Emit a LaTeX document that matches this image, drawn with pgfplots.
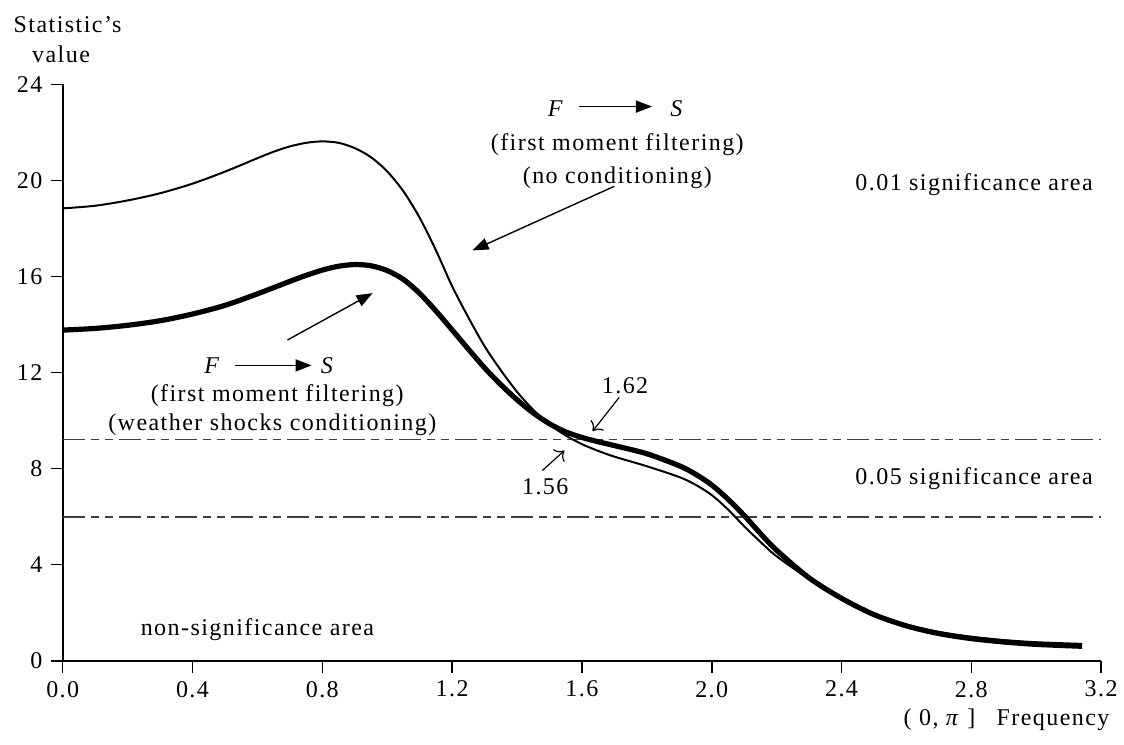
\documentclass[border=0pt]{standalone}
\usepackage{fontspec}
\setmainfont{Liberation Serif}[LetterSpace=6]
\usepackage{pgfplots}
\pgfplotsset{compat=1.18}
\usetikzlibrary{arrows.meta}

\pgfplotstableread{
x y
0 18.84
0.1 18.95
0.2 19.17
0.3 19.47
0.4 19.87
0.5 20.37
0.6 20.93
0.65 21.2
0.7 21.42
0.75 21.57
0.8 21.63
0.85 21.57
0.9 21.35
0.95 20.97
1.0 20.38
1.05 19.55
1.1 18.45
1.15 17.1
1.2 15.6
1.25 14.3
1.3 13.1
1.35 12.1
1.4 11.2
1.45 10.45
1.5 9.85
1.55 9.38
1.6 9.02
1.65 8.74
1.7 8.5
1.8 8.1
1.9 7.65
1.95 7.33
2.0 6.9
2.05 6.3
2.1 5.6
2.15 4.95
2.2 4.35
2.3 3.4
2.4 2.6
2.5 1.95
2.6 1.5
2.7 1.2
2.8 1.0
2.9 0.86
3.0 0.77
3.1416 0.7
}\nocond

\pgfplotstableread{
x y
0 13.77
0.1 13.84
0.2 13.97
0.3 14.16
0.4 14.44
0.5 14.8
0.6 15.28
0.7 15.8
0.75 16.05
0.8 16.27
0.85 16.43
0.9 16.5
0.95 16.45
1.0 16.25
1.05 15.88
1.1 15.3
1.15 14.57
1.2 13.78
1.25 12.98
1.3 12.2
1.35 11.5
1.4 10.87
1.45 10.32
1.5 9.87
1.55 9.53
1.6 9.3
1.65 9.12
1.7 8.96
1.8 8.62
1.9 8.12
1.95 7.77
2.0 7.32
2.05 6.73
2.1 6.05
2.15 5.3
2.2 4.6
2.3 3.45
2.4 2.6
2.5 1.92
2.6 1.45
2.7 1.13
2.8 0.92
2.9 0.78
3.0 0.68
3.1416 0.6
}\weather

\begin{document}
\fontsize{12pt}{14pt}\selectfont
\begin{tikzpicture}
\begin{axis}[
  scale only axis, width=519.2pt, height=288.1pt,
  xmin=0, xmax=3.2, ymin=0, ymax=24,
  axis lines=left,
  axis line style={-, line width=0.9pt},
  xtick={0,0.4,0.8,1.2,1.6,2,2.4,2.8,3.2},
  ytick={0,4,8,12,16,20,24},
  tick align=outside, major tick length=6pt,
  tick style={line width=0.8pt, black},
  xticklabel style={/pgf/number format/.cd, fixed, fixed zerofill, precision=1},
  /pgf/number format/assume math mode=true,
  ticklabel style={font=\fontsize{12pt}{14pt}\selectfont},
  clip=false,
]
\coordinate (O) at (axis cs:0,0);
% significance thresholds
\addplot[black!75, line width=0.7pt, dash pattern=on 11pt off 3pt on 4pt off 3pt on 4pt off 3pt] coordinates {(0,9.21) (3.2,9.21)};
\addplot[black!75, line width=0.7pt, dash pattern=on 11pt off 3pt on 4pt off 3pt on 4pt off 3pt] coordinates {(0,5.99) (3.2,5.99)};
% curves
\addplot[black, line width=1pt, smooth] table {\nocond};
\addplot[black, line width=2.6pt, smooth] table {\weather};

% axis labels
\node at (axis cs:0.015,26.49) {Statistic's};
\node at (axis cs:-0.005,25.24) {value};
\node at (axis cs:2.702,-2.46) {( 0, \textit{π} ]};
\node at (axis cs:3.052,-2.46) {Frequency};

% top annotation
\node at (axis cs:1.52,23.0) {\textit{F}};
\draw[line width=0.8pt, -{Triangle[length=8pt,width=6pt]}] (axis cs:1.592,23.08) -- (axis cs:1.816,23.08);
\node at (axis cs:1.893,23.0) {\textit{S}};
\node at (axis cs:1.709,21.5) {(first moment filtering)};
\node at (axis cs:1.709,20.13) {(no conditioning)};
\draw[line width=0.7pt, -{Triangle[length=8pt,width=6pt]}] (axis cs:1.70,19.76) -- (axis cs:1.263,17.09);

% lower annotation
\node at (axis cs:0.462,12.28) {\textit{F}};
\draw[line width=0.8pt, -{Triangle[length=8pt,width=6pt]}] (axis cs:0.530,12.3) -- (axis cs:0.767,12.3);
\node at (axis cs:0.816,12.28) {\textit{S}};
\node at (axis cs:0.661,11.02) {(first moment filtering)};
\node at (axis cs:0.646,9.81) {(weather shocks conditioning)};
\draw[line width=0.7pt, -{Triangle[length=8pt,width=6pt]}] (axis cs:0.693,13.36) -- (axis cs:0.955,15.31);

% crossing points
\node at (axis cs:1.733,11.45) {1.62};
\draw[line width=0.6pt, -{To[length=4pt]}] (axis cs:1.715,10.97) -- (axis cs:1.633,9.56);
\node at (axis cs:1.487,7.23) {1.56};
\draw[line width=0.6pt, -{To[length=4pt]}] (axis cs:1.478,7.92) -- (axis cs:1.546,8.75);

% regions
\node[anchor=east] at (axis cs:3.2,19.84) {0.01 significance area};
\node[anchor=east] at (axis cs:3.2,7.59) {0.05 significance area};
\node at (axis cs:0.6,1.3) {non-significance area};
\end{axis}
\pgfresetboundingbox
\path[use as bounding box] (O) ++(-31.35pt,-41.65pt) rectangle ++(562pt,372pt);
\end{tikzpicture}
\end{document}
